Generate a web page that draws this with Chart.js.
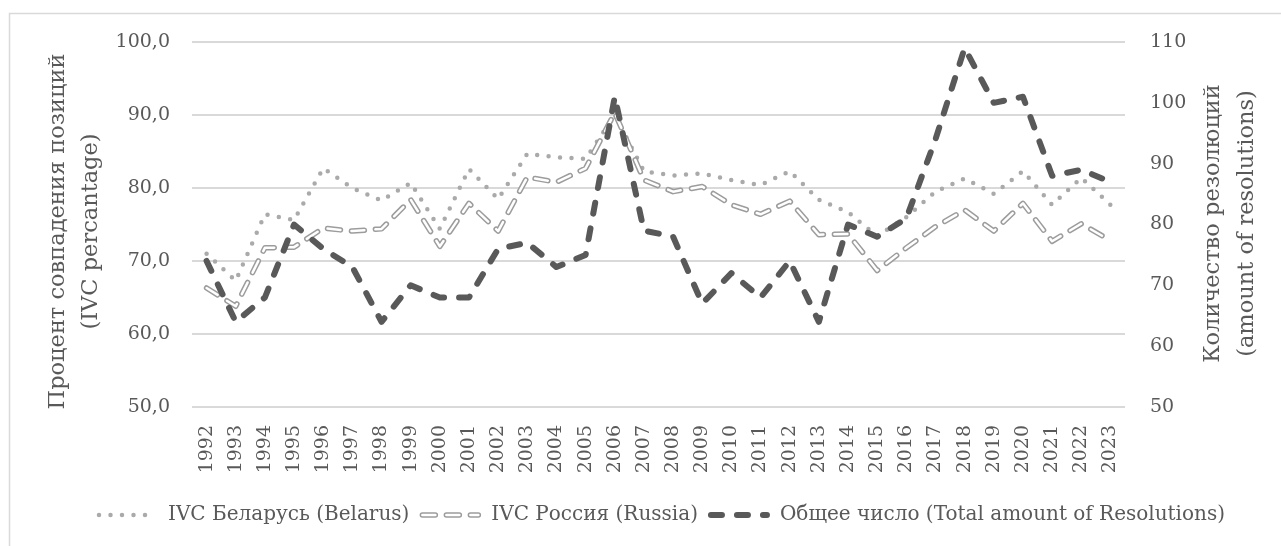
<!DOCTYPE html>
<html>
<head>
<meta charset="utf-8">
<script src="https://cdn.jsdelivr.net/npm/chart.js@4.4.1/dist/chart.umd.min.js"></script>
<style>
html,body{margin:0;padding:0;background:#ffffff;}
canvas{display:block;}
</style>
</head>
<body>
<canvas id="c" width="1281" height="546"></canvas>
<script>
// ---- data ----
const years = ['1992','1993','1994','1995','1996','1997','1998','1999','2000','2001','2002','2003','2004','2005','2006','2007','2008','2009','2010','2011','2012','2013','2014','2015','2016','2017','2018','2019','2020','2021','2022','2023'];
const belarus = [71.0, 67.3, 76.4, 75.6, 82.7, 80.0, 78.3, 80.7, 74.4, 82.6, 78.5, 84.7, 84.2, 84.0, 90.0, 82.3, 81.7, 82.0, 81.1, 80.4, 82.3, 78.4, 76.7, 73.4, 76.0, 79.5, 81.3, 79.2, 82.3, 77.7, 81.4, 77.7];
const russia = [66.3, 63.8, 71.8, 71.9, 74.5, 74.1, 74.4, 78.4, 72.0, 77.9, 74.1, 81.5, 80.8, 82.7, 90.3, 81.1, 79.5, 80.2, 77.7, 76.4, 78.2, 73.6, 73.7, 68.7, 71.8, 74.7, 77.0, 74.1, 77.9, 72.7, 75.1, 72.8];
const total = [74, 64, 68, 80, 76, 73, 64, 70, 68, 68, 76, 77, 73, 75, 101, 79, 78, 67, 72, 68, 74, 64, 80, 78, 81, 94, 109, 100, 101, 88, 89, 87];
const seriesNames = ['IVC Беларусь (Belarus)', 'IVC Россия (Russia)', 'Общее число (Total amount of Resolutions)'];
const leftTitle = ['Процент совпадения позиций', '(IVC percantage)'];
const rightTitle = ['Количество резолюций', '(amount of resolutions)'];
const leftRange = {min: 50, max: 100, step: 10};
const rightRange = {min: 50, max: 110, step: 10};

// ---- styling ----
const TEXT = '#595959';
const FONT = "'DejaVu Serif', serif";
Chart.defaults.font.family = FONT;
Chart.defaults.color = TEXT;

const russiaDash = [13, 11];
const SAMPLE_W = 62;

const framePlugin = {
  id: 'frame',
  beforeDraw(chart) {
    const ctx = chart.ctx;
    ctx.save();
    ctx.fillStyle = '#ffffff';
    ctx.fillRect(0, 0, chart.width, chart.height);
    ctx.strokeStyle = '#d9d9d9';
    ctx.lineWidth = 1.5;
    ctx.strokeRect(9.5, 13.5, 1400, 1000);
    ctx.restore();
  }
};

function strokeSample(ctx, x0, x1, y, color, width, dash) {
  ctx.save();
  ctx.strokeStyle = color;
  ctx.lineWidth = width;
  ctx.lineCap = 'round';
  ctx.setLineDash(dash);
  ctx.beginPath();
  ctx.moveTo(x0, y);
  ctx.lineTo(x1, y);
  ctx.stroke();
  ctx.restore();
}

const titlesPlugin = {
  id: 'axisTitles',
  afterDraw(chart) {
    const ctx = chart.ctx;
    const a = chart.chartArea;
    ctx.save();
    ctx.fillStyle = TEXT;
    ctx.font = "22.5px " + FONT;
    ctx.textAlign = 'center';
    ctx.textBaseline = 'middle';
    const cyL = (a.top + a.bottom) / 2 + 7;
    const cyR = (a.top + a.bottom) / 2 - 1;
    [[58, leftTitle[0], cyL], [91, leftTitle[1], cyL], [1213, rightTitle[0], cyR], [1247, rightTitle[1], cyR]].forEach(([x, t, cy]) => {
      ctx.save();
      ctx.translate(x, cy);
      ctx.rotate(-Math.PI / 2);
      ctx.fillText(t, 0, 0);
      ctx.restore();
    });
    ctx.restore();
    // legend samples, drawn with each dataset's own line style
    const lg = chart.legend;
    if (lg && lg.legendItems) {
      lg.legendItems.forEach((it, i) => {
        const hb = lg.legendHitBoxes[i];
        const y = hb.top + hb.height / 2;
        const x0 = hb.left + 3, x1 = hb.left + SAMPLE_W - 3;
        const ds = chart.data.datasets[it.datasetIndex];
        strokeSample(ctx, x0, x1, y, ds.borderColor, ds.borderWidth, ds.borderDash);
        if (it.datasetIndex === 1) {
          const inner = chart.data.datasets[2];
          strokeSample(ctx, x0, x1, y, inner.borderColor, inner.borderWidth, inner.borderDash);
        }
      });
    }
  }
};

const chart = new Chart(document.getElementById('c'), {
  type: 'line',
  data: {
    labels: years,
    datasets: [
      {
        label: seriesNames[0], data: belarus, yAxisID: 'y',
        borderColor: '#aaaaaa', backgroundColor: '#aaaaaa', borderWidth: 4.5,
        borderDash: [0, 11.5], borderCapStyle: 'round', borderJoinStyle: 'round',
        pointRadius: 0, tension: 0, fill: false, order: 3
      },
      {
        label: seriesNames[1], data: russia, yAxisID: 'y',
        borderColor: '#9c9c9c', backgroundColor: '#9c9c9c', borderWidth: 5.5,
        borderDash: russiaDash, borderCapStyle: 'round', borderJoinStyle: 'round',
        pointRadius: 0, tension: 0, fill: false, order: 2
      },
      {
        label: '_inner', data: russia, yAxisID: 'y',
        borderColor: '#ffffff', backgroundColor: '#ffffff', borderWidth: 2.5,
        borderDash: russiaDash, borderCapStyle: 'round', borderJoinStyle: 'round',
        pointRadius: 0, tension: 0, fill: false, order: 1
      },
      {
        label: seriesNames[2], data: total, yAxisID: 'y1',
        borderColor: '#595959', backgroundColor: '#595959', borderWidth: 6,
        borderDash: [11, 15], borderCapStyle: 'round', borderJoinStyle: 'round',
        pointRadius: 0, tension: 0, fill: false, order: 0
      }
    ]
  },
  options: {
    responsive: false,
    devicePixelRatio: 1,
    animation: false,
    events: [],
    layout: { padding: { left: 40, right: 0, top: 42, bottom: 11 } },
    plugins: {
      tooltip: { enabled: false },
      legend: {
        position: 'bottom',
        labels: {
          usePointStyle: true,
          pointStyle: 'line',
          pointStyleWidth: SAMPLE_W,
          padding: 10,
          color: TEXT,
          font: { size: 20, family: FONT },
          generateLabels(chart) {
            return chart.data.datasets
              .map((ds, i) => ({
                text: ds.label, datasetIndex: i, hidden: false,
                fillStyle: 'rgba(0,0,0,0)', strokeStyle: 'rgba(0,0,0,0)',
                lineWidth: 0, pointStyle: 'line', fontColor: TEXT
              }))
              .filter((it) => it.datasetIndex !== 2);
          }
        }
      }
    },
    scales: {
      x: {
        type: 'category',
        offset: true,
        grid: { display: false, drawTicks: false },
        border: { display: false },
        ticks: {
          autoSkip: false, minRotation: 90, maxRotation: 90, padding: 18,
          color: TEXT, font: { size: 19 }
        },
        afterFit(s) { s.height = 88; }
      },
      y: {
        position: 'left',
        min: leftRange.min, max: leftRange.max,
        grid: { color: '#d9d9d9', lineWidth: 2, drawTicks: false },
        border: { display: false },
        ticks: {
          stepSize: leftRange.step, padding: 22, color: TEXT, font: { size: 19 },
          callback: (v) => v.toFixed(1).replace('.', ',')
        },
        afterFit(s) { s.width = 152; }
      },
      y1: {
        position: 'right',
        min: rightRange.min, max: rightRange.max,
        grid: { display: false, drawTicks: false },
        border: { display: false },
        ticks: { stepSize: rightRange.step, padding: 25, color: TEXT, font: { size: 19 } },
        afterFit(s) { s.width = 156; }
      }
    }
  },
  plugins: [framePlugin, titlesPlugin]
});
</script>
</body>
</html>
